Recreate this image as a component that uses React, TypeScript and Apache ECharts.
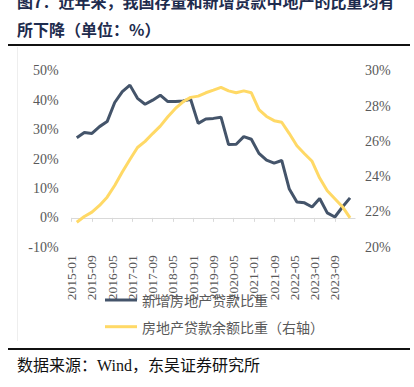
import React, { useEffect, useRef } from "react";
import * as echarts from "echarts";

// Month categories of the x axis (2015-01 .. 2024-05)
const months: string[] = [];
for (let y = 2015; y <= 2024; y++) {
  for (let m = 1; m <= 12; m++) {
    if (y === 2024 && m > 5) break;
    months.push(`${y}-${String(m).padStart(2, "0")}`);
  }
}
// Tick labels shown on the x axis
const xTickLabels = [
  "2015-01", "2015-09", "2016-05", "2017-01", "2017-09", "2018-05", "2019-01",
  "2019-09", "2020-05", "2021-01", "2021-09", "2022-05", "2023-01", "2023-09",
];

// Quarterly observation dates
const quarterDates = [
  "2015-03", "2015-06", "2015-09", "2015-12",
  "2016-03", "2016-06", "2016-09", "2016-12",
  "2017-03", "2017-06", "2017-09", "2017-12",
  "2018-03", "2018-06", "2018-09", "2018-12",
  "2019-03", "2019-06", "2019-09", "2019-12",
  "2020-03", "2020-06", "2020-09", "2020-12",
  "2021-03", "2021-06", "2021-09", "2021-12",
  "2022-03", "2022-06", "2022-09", "2022-12",
  "2023-03", "2023-06", "2023-09", "2023-12",
  "2024-03",
];

// 新增房地产贷款比重 (left axis, %)
const newLoanShare = [
  27.2, 29.0, 28.7, 31.0,
  32.7, 39.2, 42.9, 45.1,
  40.6, 38.6, 40.0, 41.7,
  39.5, 39.5, 39.7, 40.3,
  32.1, 33.6, 33.8, 34.2,
  24.9, 25.0, 27.6, 26.7,
  21.9, 19.6, 18.6, 19.5,
  9.8, 5.4, 5.1, 3.7,
  6.6, 1.7, 0.3, 3.7,
  6.8,
];

// 房地产贷款余额比重 (right axis, %)
const balanceShare = [
  21.42, 21.74, 21.99, 22.37,
  22.84, 23.5, 24.26, 24.97,
  25.65, 26.0, 26.44, 26.86,
  27.39, 27.86, 28.24, 28.49,
  28.56, 28.75, 28.9, 29.06,
  28.86, 28.75, 28.86, 28.75,
  27.8, 27.41, 27.17, 27.08,
  26.44, 25.75, 25.3, 24.87,
  23.92, 23.2, 22.75, 22.3,
  21.67,
];

const seriesNames = ["新增房地产贷款比重", "房地产贷款余额比重（右轴）"];
const leftTicks = { min: -10, max: 50, interval: 10 };
const rightTicks = { min: 20, max: 30, interval: 2 };

const SERIF = "Liberation Serif";
const CJK = "Noto Sans CJK SC";

export default function App() {
  const ref = useRef<HTMLDivElement>(null);
  useEffect(() => {
    if (!ref.current) return;
    const chart = echarts.init(ref.current, undefined, { renderer: "svg" });
    const showTick = (_i: number, v: string) => xTickLabels.indexOf(v) >= 0;
    const option: any = {
      animation: false,
      backgroundColor: "#ffffff",
      grid: {
        left: 71.7,
        right: 58.9,
        top: 70.7,
        bottom: 139.7,
        containLabel: false,
        outerBoundsMode: "none",
      },
      legend: {
        orient: "vertical",
        left: 100,
        top: 288,
        itemWidth: 32,
        itemHeight: 3,
        itemGap: 12.7,
        icon: "rect",
        data: seriesNames,
        textStyle: {
          fontFamily: CJK,
          fontSize: 14,
          lineHeight: 14,
          color: "#595959",
        },
      },
      xAxis: {
        type: "category",
        data: months,
        boundaryGap: false,
        axisLine: { onZero: true, lineStyle: { color: "#d9d9d9", width: 1 } },
        axisTick: {
          show: true,
          interval: showTick,
          length: 4,
          lineStyle: { color: "#d9d9d9" },
        },
        axisLabel: {
          interval: showTick,
          rotate: 90,
          margin: 8,
          fontFamily: SERIF,
          fontSize: 13.5,
          color: "#595959",
        },
        splitLine: { show: false },
      },
      yAxis: [
        {
          type: "value",
          min: leftTicks.min,
          max: leftTicks.max,
          interval: leftTicks.interval,
          axisLine: { show: false },
          axisTick: { show: false },
          splitLine: { show: false },
          axisLabel: {
            formatter: "{value}%",
            margin: 13,
            fontFamily: SERIF,
            fontSize: 14,
            color: "#595959",
          },
        },
        {
          type: "value",
          position: "right",
          min: rightTicks.min,
          max: rightTicks.max,
          interval: rightTicks.interval,
          axisLine: { show: false },
          axisTick: { show: false },
          splitLine: { show: false },
          axisLabel: {
            formatter: "{value}%",
            margin: 10,
            fontFamily: SERIF,
            fontSize: 14,
            color: "#595959",
          },
        },
      ],
      series: [
        {
          name: seriesNames[0],
          type: "line",
          yAxisIndex: 0,
          symbol: "none",
          color: "#44546A",
          lineStyle: { width: 3, color: "#44546A" },
          data: quarterDates.map((d, i) => [d, newLoanShare[i]]),
        },
        {
          name: seriesNames[1],
          type: "line",
          yAxisIndex: 1,
          symbol: "none",
          color: "#FFD966",
          lineStyle: { width: 3, color: "#FFD966" },
          data: quarterDates.map((d, i) => [d, balanceShare[i]]),
        },
      ],
      graphic: [
        {
          type: "text",
          left: 17,
          top: -7,
          style: {
            text: "图7：近年来，我国存量和新增贷款中地产的比重均有",
            fontFamily: CJK,
            fontSize: 16,
            fontWeight: "bold",
            fill: "#1e2c4e",
          },
        },
        {
          type: "text",
          left: 17,
          top: 21,
          style: {
            text: "所下降（单位：%）",
            fontFamily: CJK,
            fontSize: 16,
            fontWeight: "bold",
            fill: "#1e2c4e",
          },
        },
        {
          type: "line",
          shape: { x1: 8, y1: 45, x2: 410, y2: 45 },
          style: { stroke: "#111111", lineWidth: 2 },
        },
        {
          type: "line",
          shape: { x1: 17.5, y1: 47, x2: 17.5, y2: 341 },
          style: { stroke: "#eeeeee", lineWidth: 1 },
        },
        {
          type: "line",
          shape: { x1: 8, y1: 349, x2: 410, y2: 349 },
          style: { stroke: "#111111", lineWidth: 2 },
        },
        {
          type: "text",
          left: 17,
          top: 356,
          style: {
            text: "数据来源：",
            fontFamily: CJK,
            fontSize: 16,
            fill: "#111111",
          },
        },
        {
          type: "text",
          left: 97,
          top: 357,
          style: {
            text: "Wind",
            fontFamily: SERIF,
            fontSize: 16,
            fill: "#111111",
          },
        },
        {
          type: "text",
          left: 132,
          top: 356,
          style: {
            text: "，东吴证券研究所",
            fontFamily: CJK,
            fontSize: 16,
            fill: "#111111",
          },
        },
      ],
    };
    chart.setOption(option);
    return () => chart.dispose();
  }, []);
  return (
    <div
      ref={ref}
      style={{ position: "absolute", left: 0, top: 0, width: 414, height: 387 }}
    />
  );
}
